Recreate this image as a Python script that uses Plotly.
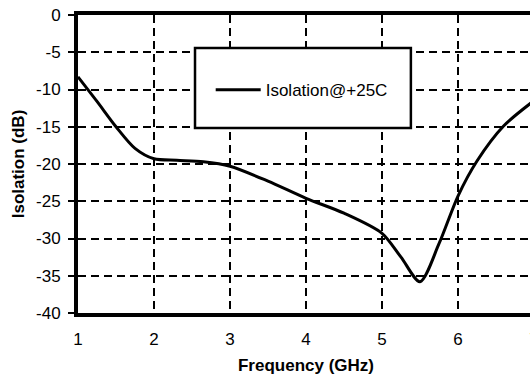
import plotly.graph_objects as go

# Data
freq_ghz = [1.0, 1.25, 1.5, 1.75, 2.0, 2.3, 2.65, 3.0, 3.5, 4.0, 4.5, 5.0, 5.25, 5.5, 5.75, 6.0, 6.25, 6.6, 7.0]
isolation_db = [-8.3, -11.6, -15.0, -17.9, -19.3, -19.5, -19.7, -20.3, -22.3, -24.6, -26.6, -29.3, -32.5, -35.8, -30.7, -24.3, -19.6, -14.9, -11.5]
series_name = "Isolation@+25C"
x_ticks = [1, 2, 3, 4, 5, 6, 7]
y_ticks = [0, -5, -10, -15, -20, -25, -30, -35, -40]

FONT = "Liberation Sans, Arial, sans-serif"

fig = go.Figure()
fig.add_trace(go.Scatter(
    x=freq_ghz, y=isolation_db, mode="lines", name=series_name,
    line=dict(color="black", width=3, shape="spline", smoothing=0.8),
    showlegend=True,
))

grid = dict(showgrid=True, gridcolor="black", gridwidth=1.6, griddash="8px,5px")

fig.update_xaxes(
    range=[1, 7], tickvals=x_ticks, ticktext=[str(v) for v in x_ticks],
    showline=True, linecolor="black", linewidth=4, mirror=True,
    ticks="", zeroline=False, automargin=False,
    ticklabelstandoff=8,
    tickfont=dict(family=FONT, size=17, color="black"),
    title=dict(text="<b>Frequency (GHz)</b>", font=dict(family=FONT, size=17, color="black"), standoff=12),
    **grid,
)
fig.update_yaxes(
    range=[-40, 0], tickvals=y_ticks, ticktext=[str(v) for v in y_ticks],
    showline=True, linecolor="black", linewidth=4, mirror=True,
    ticks="outside", ticklen=6, tickwidth=1.5, tickcolor="black",
    ticklabelstandoff=4, zeroline=False, automargin=False,
    tickfont=dict(family=FONT, size=17, color="black"),
    title=dict(text="<b>Isolation (dB)</b>", font=dict(family=FONT, size=17, color="black"), standoff=8),
    **grid,
)

# Legend frame
fig.add_shape(type="rect", xref="paper", yref="paper",
              x0=0.2566, x1=0.730, y0=0.621, y1=0.889,
              line=dict(color="black", width=2.5), fillcolor="white", layer="above")

fig.update_layout(
    width=560, height=377,
    margin=dict(l=78, r=26, t=15, b=64, autoexpand=False),
    paper_bgcolor="white", plot_bgcolor="white",
    showlegend=True,
    legend=dict(x=0.291, y=0.748, xanchor="left", yanchor="middle",
                bgcolor="rgba(0,0,0,0)", borderwidth=0,
                itemwidth=45,
                font=dict(family=FONT, size=17, color="black")),
)

fig.write_html("out.html", config={"displayModeBar": False},
               post_script="document.body.style.margin='0';document.body.style.overflow='hidden';")
